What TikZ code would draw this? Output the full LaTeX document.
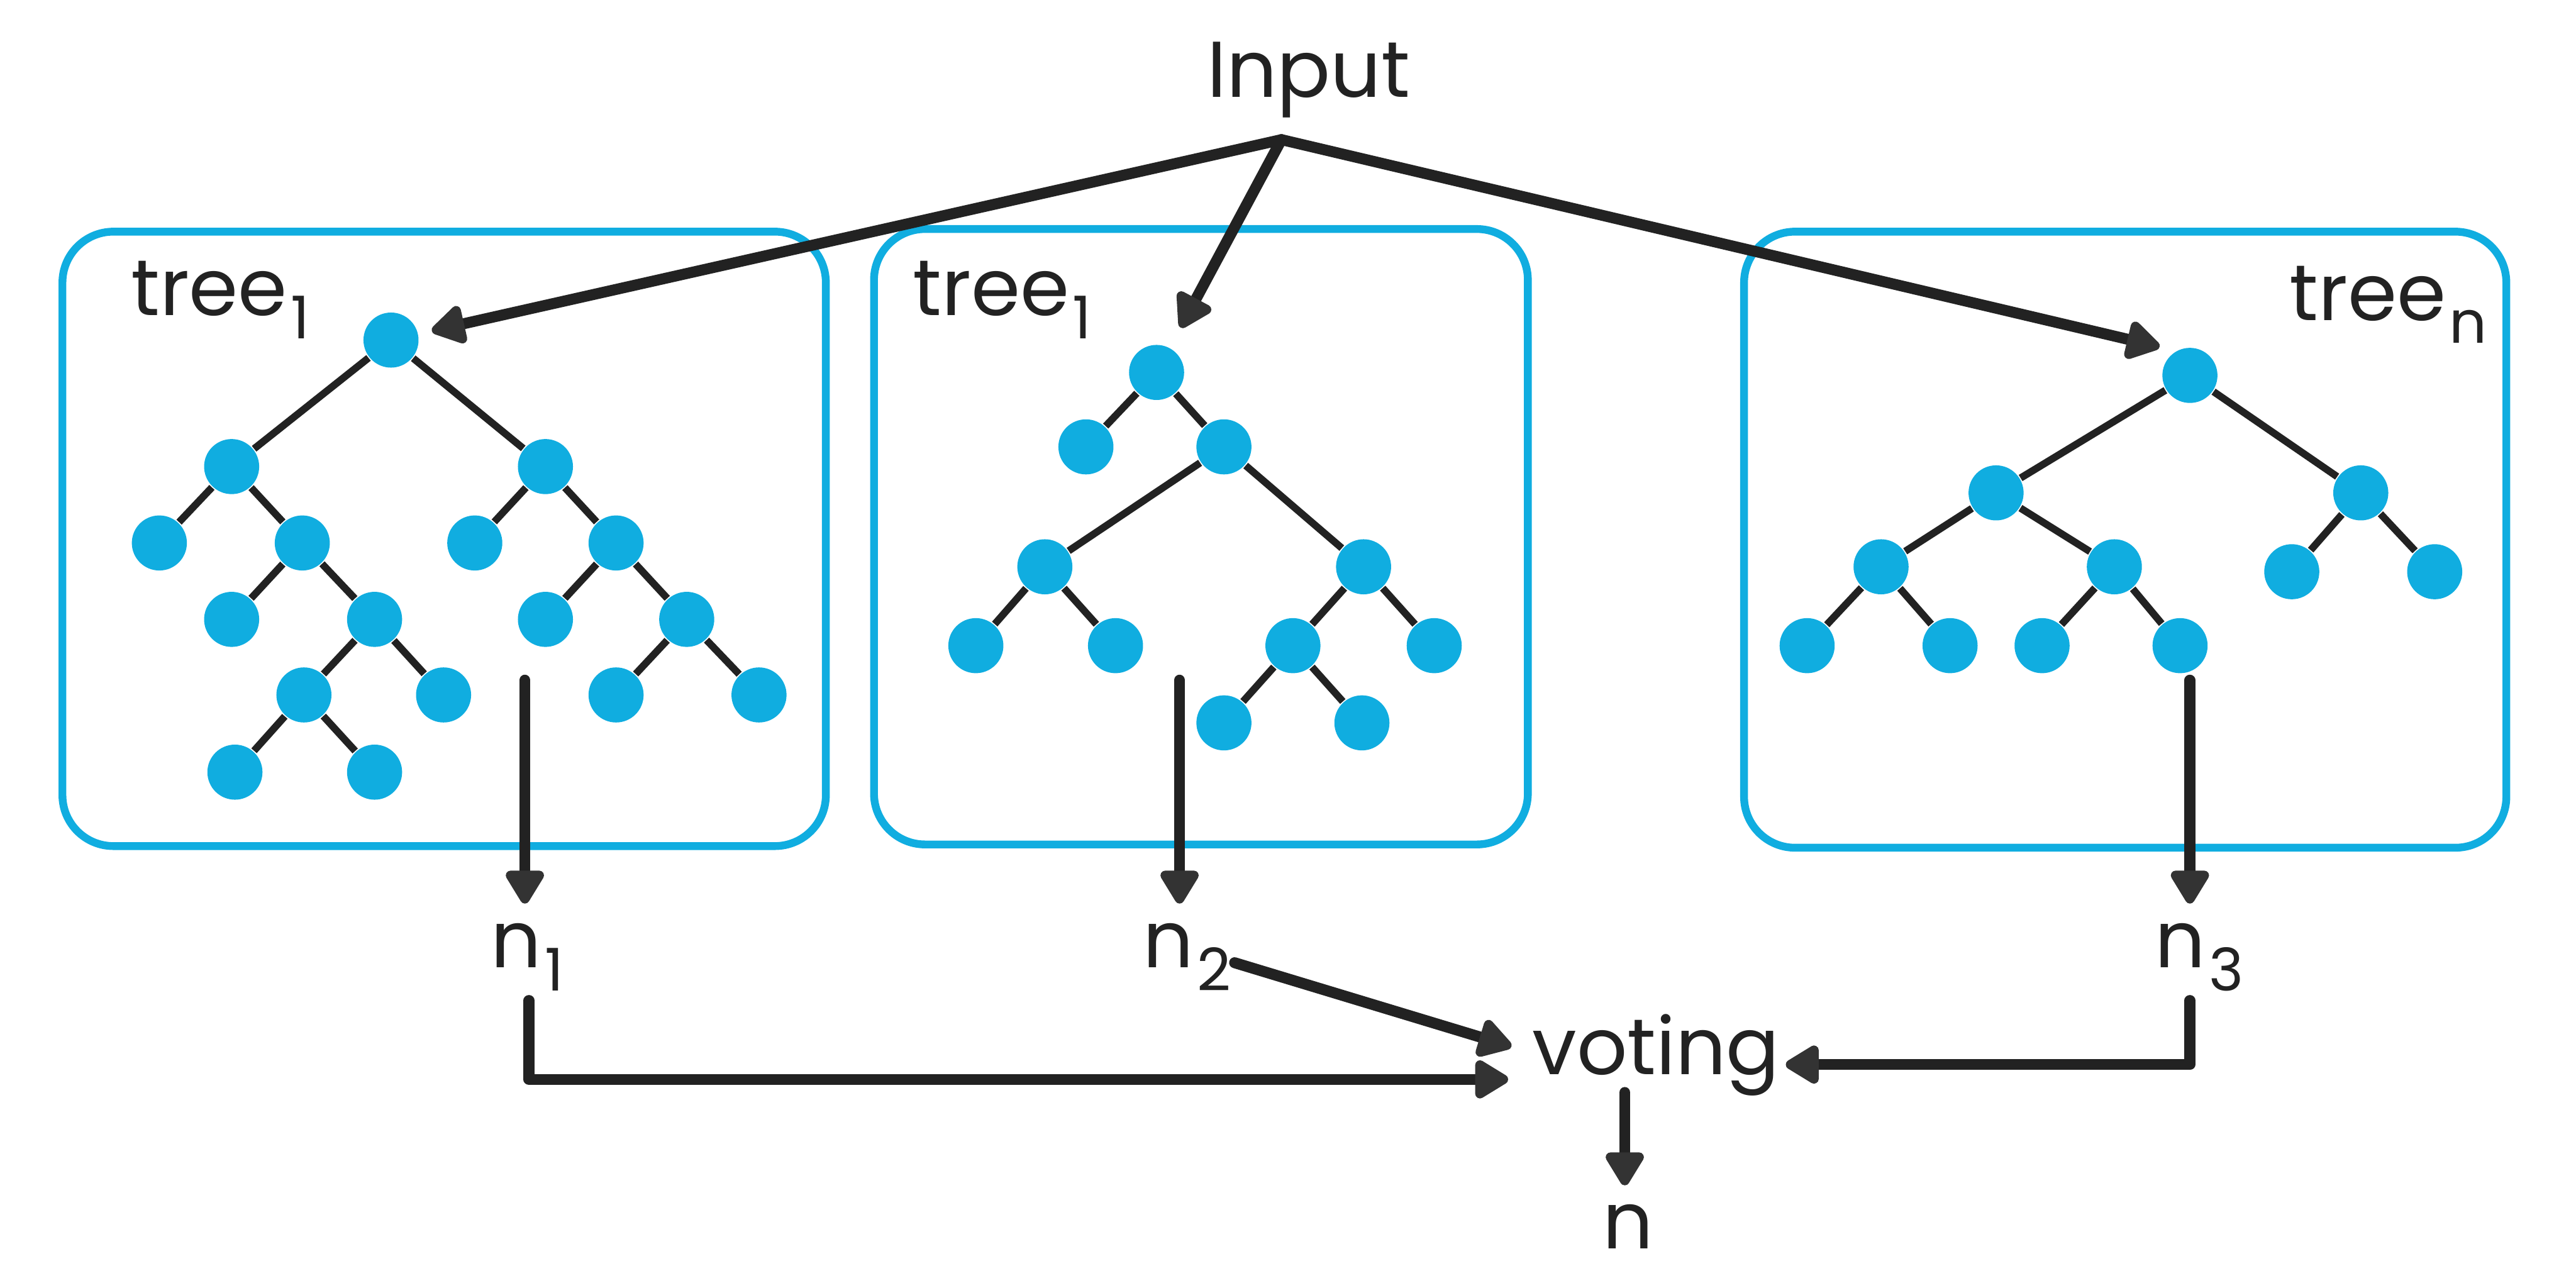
\documentclass[tikz,border=0pt]{standalone}
\usepackage{fontspec}
\setmainfont{Poppins}
\usetikzlibrary{arrows.meta,calc}
\definecolor{ink}{HTML}{222222}
\definecolor{headc}{HTML}{333333}
\definecolor{sky}{HTML}{10ADE0}
\newcommand\subtxt[1]{\hspace{0.02cm}\raisebox{-0.14cm}{\fontsize{10.2pt}{11pt}\selectfont #1}}
\begin{document}
\begin{tikzpicture}[x=0.01cm,y=-0.01cm,
  lbl/.style={inner sep=0pt, text=ink, font=\fontsize{13.7pt}{15pt}\selectfont, anchor=base west},
  leaf/.style={circle, fill=sky, minimum size=0.335cm, inner sep=0pt},
  edge/.style={draw=ink, line width=1.25pt},
  arr/.style={draw=ink, line width=1.9pt, line cap=round, line join=round, -{Triangle[length=0.23cm,width=0.26cm,round,color=headc]}},
  frame/.style={draw=sky, line width=1.35pt, rounded corners=0.31cm}]
\useasboundingbox (0,0) rectangle (1568,784);

% frames
\draw[frame] (38,141) rectangle (502.7,515);
\draw[frame] (532,139.4) rectangle (930,514);
\draw[frame] (1061.6,141) rectangle (1525.6,516);

% labels
\node[lbl] (input) at (734,59) {Input};
\node[lbl] (lab1) at (79,192) {tree\subtxt{1}};
\node[lbl] (lab2) at (555,192) {tree\subtxt{1}};
\node[lbl] (lab3) at (1393,195) {tree\subtxt{n}};
\node[lbl] (n1) at (298,589) {n\subtxt{1}};
\node[lbl] (n2) at (695,589) {n\subtxt{2}};
\node[lbl] (n3) at (1311,589) {n\subtxt{3}};
\node[lbl] (voting) at (932,654) {voting};
\node[lbl] (nout) at (975,760) {n};

% tree 1
\node[leaf] (t1r) at (238,207) {};
\node[leaf] (t1a) at (141,284) {};
\node[leaf] (t1b) at (332,284) {};
\node[leaf] (t1aa) at (97,330.5) {};
\node[leaf] (t1ab) at (184,330.5) {};
\node[leaf] (t1aba) at (141,377) {};
\node[leaf] (t1abb) at (228,377) {};
\node[leaf] (t1abba) at (185,423) {};
\node[leaf] (t1abbb) at (270,423) {};
\node[leaf] (t1abbaa) at (143,470) {};
\node[leaf] (t1abbab) at (228,470) {};
\node[leaf] (t1ba) at (289,330.5) {};
\node[leaf] (t1bb) at (375,330.5) {};
\node[leaf] (t1bba) at (332,377) {};
\node[leaf] (t1bbb) at (418,377) {};
\node[leaf] (t1bbba) at (375,423) {};
\node[leaf] (t1bbbb) at (462,423) {};
\draw[edge] (t1r) -- (t1a);
\draw[edge] (t1r) -- (t1b);
\draw[edge] (t1a) -- (t1aa);
\draw[edge] (t1a) -- (t1ab);
\draw[edge] (t1ab) -- (t1aba);
\draw[edge] (t1ab) -- (t1abb);
\draw[edge] (t1abb) -- (t1abba);
\draw[edge] (t1abb) -- (t1abbb);
\draw[edge] (t1abba) -- (t1abbaa);
\draw[edge] (t1abba) -- (t1abbab);
\draw[edge] (t1b) -- (t1ba);
\draw[edge] (t1b) -- (t1bb);
\draw[edge] (t1bb) -- (t1bba);
\draw[edge] (t1bb) -- (t1bbb);
\draw[edge] (t1bbb) -- (t1bbba);
\draw[edge] (t1bbb) -- (t1bbbb);

% tree 2
\node[leaf] (t2r) at (704,226.7) {};
\node[leaf] (t2a) at (661,272) {};
\node[leaf] (t2b) at (745,272) {};
\node[leaf] (t2ba) at (636,345) {};
\node[leaf] (t2bb) at (830,345) {};
\node[leaf] (t2baa) at (594,393) {};
\node[leaf] (t2bab) at (679,393) {};
\node[leaf] (t2bba) at (787,393) {};
\node[leaf] (t2bbb) at (873,393) {};
\node[leaf] (t2bbaa) at (745,440) {};
\node[leaf] (t2bbab) at (829,440) {};
\draw[edge] (t2r) -- (t2a);
\draw[edge] (t2r) -- (t2b);
\draw[edge] (t2b) -- (t2ba);
\draw[edge] (t2b) -- (t2bb);
\draw[edge] (t2ba) -- (t2baa);
\draw[edge] (t2ba) -- (t2bab);
\draw[edge] (t2bb) -- (t2bba);
\draw[edge] (t2bb) -- (t2bbb);
\draw[edge] (t2bba) -- (t2bbaa);
\draw[edge] (t2bba) -- (t2bbab);

% tree 3
\node[leaf] (t3r) at (1333,228.5) {};
\node[leaf] (t3a) at (1215,300) {};
\node[leaf] (t3b) at (1437,300) {};
\node[leaf] (t3aa) at (1145,345) {};
\node[leaf] (t3ab) at (1287,345) {};
\node[leaf] (t3aaa) at (1100,393) {};
\node[leaf] (t3aab) at (1187,393) {};
\node[leaf] (t3aba) at (1243,393) {};
\node[leaf] (t3abb) at (1327,393) {};
\node[leaf] (t3ba) at (1395,348) {};
\node[leaf] (t3bb) at (1482,348) {};
\draw[edge] (t3r) -- (t3a);
\draw[edge] (t3r) -- (t3b);
\draw[edge] (t3a) -- (t3aa);
\draw[edge] (t3a) -- (t3ab);
\draw[edge] (t3aa) -- (t3aaa);
\draw[edge] (t3aa) -- (t3aab);
\draw[edge] (t3ab) -- (t3aba);
\draw[edge] (t3ab) -- (t3abb);
\draw[edge] (t3b) -- (t3ba);
\draw[edge] (t3b) -- (t3bb);

% input arrows
\coordinate (apex) at (780,85);
\draw[arr, shorten >=0.08cm] (apex) -- (t1r);
\draw[arr, shorten >=0.135cm] (apex) -- (t2r);
\draw[arr, shorten >=0.1cm] (apex) -- (t3r.120);

% tree outputs
\coordinate (d1s) at (319.5,414); \coordinate (d1e) at (319.5,550);
\coordinate (d2s) at (718,414); \coordinate (d2e) at (718,550);
\coordinate (d3s) at (1333,414); \coordinate (d3e) at (1333,550);
\draw[arr] (d1s) -- (d1e);
\draw[arr] (d2s) -- (d2e);
\draw[arr] (d3s) -- (d3e);

% to voting
\coordinate (n1o) at (322,609); \coordinate (v1) at (918,657);
\coordinate (n2o) at (751.5,586); \coordinate (v2) at (920,637);
\coordinate (n3o) at (1333,609); \coordinate (v3) at (1087,648);
\draw[arr] (n1o) |- (v1);
\draw[arr] (n2o) -- (v2);
\draw[arr] (n3o) |- (v3);
\coordinate (vo) at (989,665); \coordinate (ve) at (989,721.5);
\draw[arr] (vo) -- (ve);
\end{tikzpicture}
\end{document}
